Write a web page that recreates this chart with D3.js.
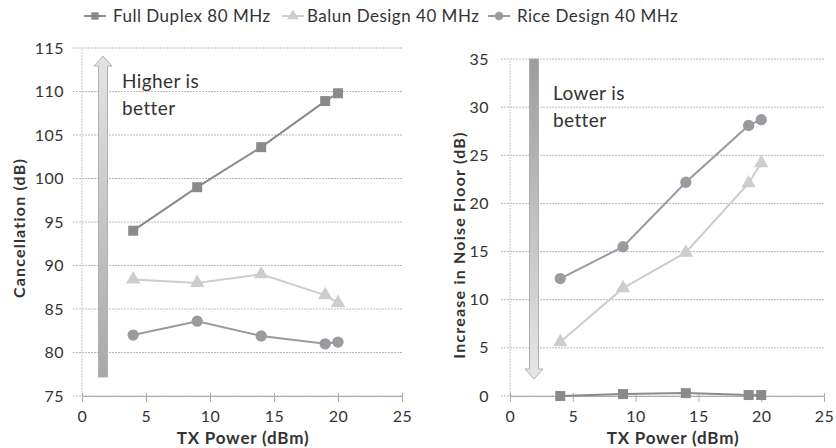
<!DOCTYPE html>
<html>
<head>
<meta charset="utf-8">
<script src="https://cdn.jsdelivr.net/npm/d3@7"></script>
<style>
body { margin: 0; background: #fff; }
svg text { font-family: Lato, "Open Sans", sans-serif; fill: #333; }
</style>
</head>
<body>
<script>
const width = 836;
const height = 448;

// data
const txPower = [4, 9, 14, 19, 20];
const series = ["Full Duplex 80 MHz", "Balun Design 40 MHz", "Rice Design 40 MHz"];
const cancelFull = [94, 99, 103.6, 108.9, 109.8];
const cancelBalun = [88.4, 88, 89, 86.6, 85.7];
const cancelRice = [82, 83.6, 81.9, 81, 81.2];
const noiseFull = [0, 0.2, 0.3, 0.1, 0.1];
const noiseBalun = [5.6, 11.2, 14.9, 22.1, 24.2];
const noiseRice = [12.2, 15.5, 22.2, 28.1, 28.7];
const xTicks = [0, 5, 10, 15, 20, 25];
const cancelTicks = [75, 80, 85, 90, 95, 100, 105, 110, 115];
const noiseTicks = [0, 5, 10, 15, 20, 25, 30, 35];

const colors = ["#8a8a8a", "#cdcdcd", "#9a9aa0"];
const shapes = [d3.symbolSquare, d3.symbolTriangle, d3.symbolCircle];
const sizes = [100, 90, 100];

var svg = d3.select("body")
  .append("svg")
  .attr("width", width)
  .attr("height", height);

var defs = svg.append("defs");
function grad(id, top, bottom) {
  var g = defs.append("linearGradient").attr("id", id)
    .attr("x1", 0).attr("y1", 0).attr("x2", 0).attr("y2", 1);
  g.append("stop").attr("offset", "0%").attr("stop-color", top);
  g.append("stop").attr("offset", "100%").attr("stop-color", bottom);
}
grad("upGrad", "#e4e4e4", "#a8a8a8");
grad("downGrad", "#9c9c9c", "#e6e6e6");

function panel(opts) {
  const x = d3.scaleLinear().domain([0, 25]).range(opts.xr);
  const y = d3.scaleLinear().domain(opts.yd).range(opts.yr);
  const g = svg.append("g");

  // gridlines
  g.selectAll(".grid").data(opts.yTicks).enter().append("line")
    .attr("x1", x(0) - 9).attr("x2", x(25))
    .attr("y1", d => y(d)).attr("y2", d => y(d))
    .attr("stroke", "#b8b8b8").attr("stroke-width", 1)
    .attr("stroke-dasharray", "2,1");
  // y axis line
  g.append("line")
    .attr("x1", x(0)).attr("x2", x(0))
    .attr("y1", opts.yr[0]).attr("y2", opts.yr[1])
    .attr("stroke", "#c4c4c4").attr("stroke-dasharray", "2,1");

  // x axis
  const xa = g.append("g").attr("transform", "translate(0," + opts.yr[0] + ")")
    .call(d3.axisBottom(x).tickValues(xTicks).tickSize(6).tickPadding(9));
  xa.select(".domain").attr("stroke", "#aaa");
  xa.selectAll(".tick line").attr("stroke", "#aaa").attr("y1", -3);
  xa.selectAll(".tick text").attr("font-size", 16).attr("fill", "#333")
    .attr("letter-spacing", 0.5);

  // y labels
  g.selectAll(".ylab").data(opts.yTicks).enter().append("text")
    .attr("x", x(0) - opts.labGap).attr("y", d => y(d))
    .attr("dy", "0.35em").attr("text-anchor", "end")
    .attr("font-size", 16).attr("letter-spacing", 0.5).text(d => d);

  // titles
  g.append("text")
    .attr("x", opts.xTitleX).attr("y", 444)
    .attr("text-anchor", "middle").attr("font-weight", "bold").attr("font-size", 17)
    .attr("letter-spacing", 0.8)
    .text("TX Power (dBm)");
  g.append("text")
    .attr("transform", "translate(" + opts.yTitleX + "," + opts.yTitleY + ") rotate(-90)")
    .attr("text-anchor", "middle").attr("font-weight", "bold").attr("font-size", 16)
    .attr("letter-spacing", 1.2).attr("dy", "0.35em")
    .text(opts.yTitle);

  // arrow
  const ax = opts.arrowX, w = 4.5, hw = 9, hh = 10;
  var p;
  if (opts.up) {
    p = "M" + (ax - w) + "," + opts.arrowBot + "L" + (ax - w) + "," + (opts.arrowTop + hh) +
      "L" + (ax - hw) + "," + (opts.arrowTop + hh) + "L" + ax + "," + opts.arrowTop +
      "L" + (ax + hw) + "," + (opts.arrowTop + hh) + "L" + (ax + w) + "," + (opts.arrowTop + hh) +
      "L" + (ax + w) + "," + opts.arrowBot + "Z";
  } else {
    p = "M" + (ax - w) + "," + opts.arrowTop + "L" + (ax - w) + "," + (opts.arrowBot - hh) +
      "L" + (ax - hw) + "," + (opts.arrowBot - hh) + "L" + ax + "," + opts.arrowBot +
      "L" + (ax + hw) + "," + (opts.arrowBot - hh) + "L" + (ax + w) + "," + (opts.arrowBot - hh) +
      "L" + (ax + w) + "," + opts.arrowTop + "Z";
  }
  g.append("path").attr("d", p)
    .attr("fill", opts.up ? "url(#upGrad)" : "url(#downGrad)")
    .attr("stroke", "#b0b0b0").attr("stroke-width", 1);

  // note
  g.selectAll(".note").data(opts.note).enter().append("text")
    .attr("x", opts.noteX).attr("y", (d, i) => opts.noteY + i * 27)
    .attr("font-size", 19).attr("letter-spacing", 0.4).attr("fill", "#444").text(d => d);

  // series
  const line = d3.line().x((d, i) => x(txPower[i])).y(d => y(d));
  opts.data.forEach(function(vals, s) {
    g.append("path").datum(vals)
      .attr("d", line).attr("fill", "none")
      .attr("stroke", colors[s]).attr("stroke-width", 2);
    g.selectAll(".m" + s).data(vals).enter().append("path")
      .attr("d", d3.symbol().type(shapes[s]).size(sizes[s]))
      .attr("transform", (d, i) => "translate(" + x(txPower[i]) + "," + y(d) + ")")
      .attr("fill", colors[s]);
  });
}

panel({
  xr: [82, 402], yd: [75, 115], yr: [396, 48], yTicks: cancelTicks, labGap: 18,
  xTitleX: 243, yTitle: "Cancellation (dB)", yTitleX: 19, yTitleY: 228,
  up: true, arrowX: 103, arrowTop: 56, arrowBot: 377,
  note: ["Higher is", "better"], noteX: 122, noteY: 88,
  data: [cancelFull, cancelBalun, cancelRice]
});

panel({
  xr: [510, 824], yd: [0, 35], yr: [396, 59], yTicks: noiseTicks, labGap: 21,
  xTitleX: 673, yTitle: "Increase in Noise Floor  (dB)", yTitleX: 459, yTitleY: 245,
  up: false, arrowX: 534, arrowTop: 59, arrowBot: 379,
  note: ["Lower is", "better"], noteX: 553, noteY: 100,
  data: [noiseFull, noiseBalun, noiseRice]
});

// legend
const legX = [84, 282, 488];
const leg = svg.selectAll(".leg").data(series).enter().append("g")
  .attr("transform", (d, i) => "translate(" + legX[i] + ",16)");
leg.append("line").attr("x1", 0).attr("x2", 22).attr("y1", 0).attr("y2", 0)
  .attr("stroke", (d, i) => colors[i]).attr("stroke-width", 2);
leg.append("path")
  .attr("d", (d, i) => d3.symbol().type(shapes[i]).size(55)())
  .attr("transform", "translate(11,0)")
  .attr("fill", (d, i) => colors[i]);
leg.append("text").attr("x", (d, i) => i == 1 ? 25 : 29).attr("dy", "0.35em")
  .attr("font-size", 17).attr("letter-spacing", 0.5).attr("fill", "#444").text(d => d);
</script>
</body>
</html>
